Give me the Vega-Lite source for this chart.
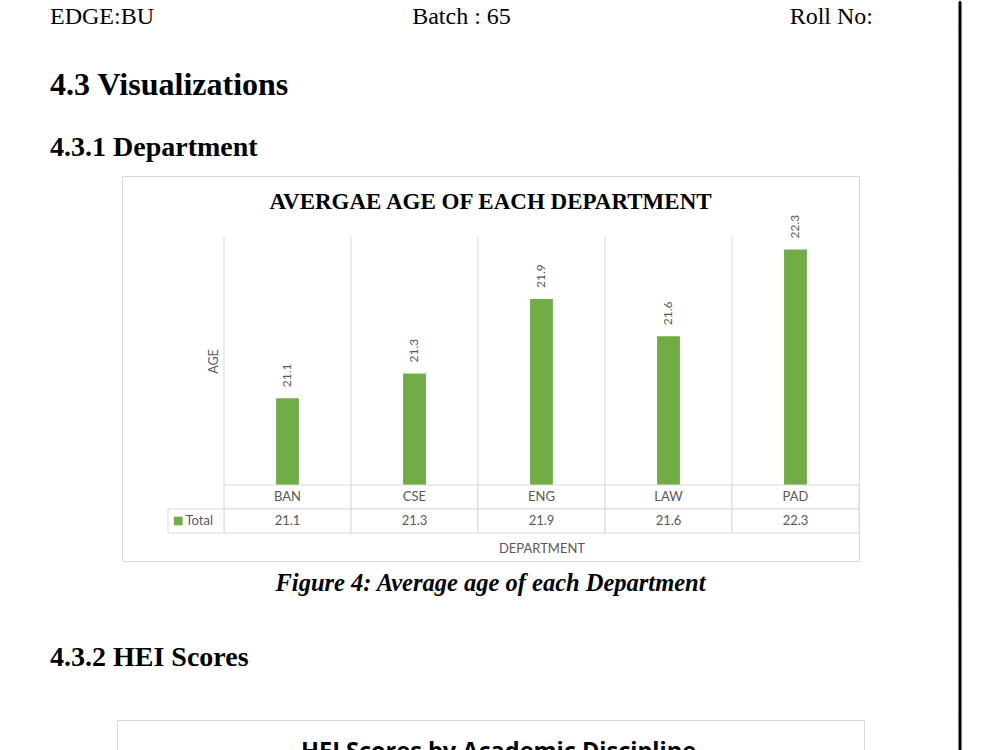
{
  "$schema": "https://vega.github.io/schema/vega-lite/v6.json",
  "padding": {"left": 50, "top": 0, "right": 10, "bottom": 0},
  "background": "white",
  "columns": 2,
  "spacing": {"row": 0, "column": 29},
  "bounds": "flush",
  "align": "each",
  "center": {"row": false, "column": true},
  "datasets": {
    "dept": [
      {"department": "BAN", "age": 21.1},
      {"department": "CSE", "age": 21.3},
      {"department": "ENG", "age": 21.9},
      {"department": "LAW", "age": 21.6},
      {"department": "PAD", "age": 22.3}
    ],
    "header": [{"item": "EDGE:BU"}, {"item": "Batch : 65"}, {"item": "Roll No:"}],
    "legend": [{"series": "Total"}],
    "caption": [{"text": "Figure 4: Average age of each Department"}]
  },
  "concat": [
    {
      "width": 881, "height": 30,
      "data": {"name": "header"},
      "encoding": {
        "x": {"field": "item", "type": "nominal", "scale": {"type": "point", "domain": ["EDGE:BU", "Batch : 65", "Roll No:"], "padding": 0.070474, "align": 0}, "axis": null},
        "text": {"field": "item"}
      },
      "layer": [
        {"transform": [{"filter": "datum.item === 'EDGE:BU'"}], "mark": {"type": "text", "align": "left", "baseline": "middle", "font": "Liberation Serif", "fontSize": 24, "color": "black"}},
        {"transform": [{"filter": "datum.item === 'Batch : 65'"}], "mark": {"type": "text", "align": "center", "baseline": "middle", "font": "Liberation Serif", "fontSize": 24, "color": "black"}},
        {"transform": [{"filter": "datum.item === 'Roll No:'"}], "mark": {"type": "text", "align": "right", "baseline": "middle", "font": "Liberation Serif", "fontSize": 24, "color": "black"}}
      ]
    },
    {"width": 0.01, "height": 30, "view": {"stroke": "black", "strokeWidth": 3, "strokeJoin": "bevel"}, "data": {"values": []}, "mark": "text"},
    {
      "width": 881, "height": 144,
      "data": {"values": []}, "mark": "text",
      "title": {"text": "4.3 Visualizations", "subtitle": "4.3.1 Department", "orient": "bottom", "anchor": "start", "frame": "group", "offset": -106.5,
        "font": "Liberation Serif", "fontSize": 32, "fontWeight": "bold", "color": "black",
        "subtitleFont": "Liberation Serif", "subtitleFontSize": 28, "subtitleFontWeight": "bold", "subtitleColor": "black", "subtitlePadding": 32}
    },
    {"width": 0.01, "height": 144, "view": {"stroke": "black", "strokeWidth": 3, "strokeJoin": "bevel"}, "data": {"values": []}, "mark": "text"},
    {
      "width": 737, "height": 385,
      "view": {"stroke": "#d9d9d9", "strokeWidth": 1},
      "title": {"text": "AVERGAE AGE OF EACH DEPARTMENT", "offset": -37.8, "anchor": "middle", "frame": "group", "font": "Liberation Serif", "fontSize": 23, "fontWeight": "bold", "color": "black"},
      "data": {"name": "dept"},
      "resolve": {"scale": {"x": "independent", "y": "independent"}},
      "layer": [
        {
          "mark": {"type": "rule", "color": "#d9d9d9", "strokeWidth": 1},
          "encoding": {
            "x": {"field": "department", "type": "nominal", "bandPosition": 0, "scale": {"type": "band", "domain": ["BAN", "CSE", "ENG", "LAW", "PAD"], "paddingInner": 0, "paddingOuter": 0.40157, "align": 1}, "axis": null},
            "y": {"datum": 22.4, "type": "quantitative", "scale": {"type": "linear", "domain": [19.7871, 22.8919], "zero": false, "nice": false}, "axis": null},
            "y2": {"datum": 20.4}
          }
        },
        {
          "mark": {"type": "bar", "width": {"band": 0.18}, "color": "#70ad47"},
          "encoding": {
            "x": {"field": "department", "type": "nominal", "scale": {"type": "band", "domain": ["BAN", "CSE", "ENG", "LAW", "PAD"], "paddingInner": 0, "paddingOuter": 0.40157, "align": 1},
              "axis": {"title": "DEPARTMENT", "labels": false, "ticks": false, "domain": false, "grid": false, "titleX": 419.5, "titleY": -8.3, "titleBaseline": "alphabetic", "titleAlign": "center", "titleFont": "Lato", "titleFontSize": 13, "titleFontWeight": "normal", "titleColor": "#595959"}},
            "y": {"field": "age", "type": "quantitative", "scale": {"type": "linear", "domain": [19.7871, 22.8919], "zero": false, "nice": false},
              "axis": {"title": "AGE", "labels": false, "ticks": false, "domain": false, "grid": false, "titleX": 95.7, "titleY": 185, "titleAngle": 270, "titleBaseline": "alphabetic", "titleAlign": "center", "titleFont": "Lato", "titleFontSize": 12.5, "titleFontWeight": "normal", "titleColor": "#595959"}},
            "y2": {"datum": 20.4}
          }
        },
        {
          "mark": {"type": "text", "angle": 270, "align": "left", "baseline": "middle", "dx": 11, "font": "Lato", "fontSize": 12, "color": "#595959"},
          "encoding": {
            "x": {"field": "department", "type": "nominal", "scale": {"type": "band", "domain": ["BAN", "CSE", "ENG", "LAW", "PAD"], "paddingInner": 0, "paddingOuter": 0.40157, "align": 1}, "axis": null},
            "y": {"field": "age", "type": "quantitative", "scale": {"type": "linear", "domain": [19.7871, 22.8919], "zero": false, "nice": false}, "axis": null},
            "text": {"field": "age", "type": "quantitative", "format": ".1f"}
          }
        },
        {
          "mark": {"type": "rect", "fill": "white", "stroke": "#d9d9d9", "strokeWidth": 1},
          "encoding": {
            "x": {"field": "department", "type": "nominal", "scale": {"type": "band", "domain": ["BAN", "CSE", "ENG", "LAW", "PAD"], "paddingInner": 0, "paddingOuter": 0.40157, "align": 1}, "axis": null},
            "y": {"datum": "category", "type": "nominal", "scale": {"type": "band", "domain": ["category", "Total"], "range": [309, 357], "paddingInner": 0, "paddingOuter": 0}, "axis": null}
          }
        },
        {
          "mark": {"type": "rect", "fill": "white", "stroke": "#d9d9d9", "strokeWidth": 1},
          "encoding": {
            "x": {"field": "department", "type": "nominal", "scale": {"type": "band", "domain": ["BAN", "CSE", "ENG", "LAW", "PAD"], "paddingInner": 0, "paddingOuter": 0.40157, "align": 1}, "axis": null},
            "y": {"datum": "Total", "type": "nominal", "scale": {"type": "band", "domain": ["category", "Total"], "range": [309, 357], "paddingInner": 0, "paddingOuter": 0}, "axis": null}
          }
        },
        {
          "mark": {"type": "text", "align": "center", "baseline": "middle", "font": "Lato", "fontSize": 13, "color": "#595959"},
          "encoding": {
            "x": {"field": "department", "type": "nominal", "scale": {"type": "band", "domain": ["BAN", "CSE", "ENG", "LAW", "PAD"], "paddingInner": 0, "paddingOuter": 0.40157, "align": 1}, "axis": null},
            "y": {"datum": "category", "type": "nominal", "scale": {"type": "band", "domain": ["category", "Total"], "range": [309, 357], "paddingInner": 0, "paddingOuter": 0}, "axis": null},
            "text": {"field": "department"}
          }
        },
        {
          "mark": {"type": "text", "align": "center", "baseline": "middle", "font": "Lato", "fontSize": 13, "color": "#595959"},
          "encoding": {
            "x": {"field": "department", "type": "nominal", "scale": {"type": "band", "domain": ["BAN", "CSE", "ENG", "LAW", "PAD"], "paddingInner": 0, "paddingOuter": 0.40157, "align": 1}, "axis": null},
            "y": {"datum": "Total", "type": "nominal", "scale": {"type": "band", "domain": ["category", "Total"], "range": [309, 357], "paddingInner": 0, "paddingOuter": 0}, "axis": null},
            "text": {"field": "age", "type": "quantitative", "format": ".1f"}
          }
        },
        {
          "data": {"name": "legend"},
          "mark": {"type": "rect", "fill": "white", "stroke": "#d9d9d9", "strokeWidth": 1},
          "encoding": {
            "x": {"field": "series", "type": "nominal", "scale": {"type": "band", "domain": ["Total"], "range": [46, 102], "paddingInner": 0, "paddingOuter": 0}, "axis": null},
            "y": {"datum": "Total", "type": "nominal", "scale": {"type": "band", "domain": ["category", "Total"], "range": [309, 357], "paddingInner": 0, "paddingOuter": 0}, "axis": null}
          }
        },
        {
          "data": {"name": "legend"},
          "mark": {"type": "point", "shape": "square", "filled": true, "size": 76, "color": "#70ad47", "opacity": 1},
          "encoding": {
            "x": {"field": "series", "type": "nominal", "bandPosition": 0.184, "scale": {"type": "band", "domain": ["Total"], "range": [46, 102], "paddingInner": 0, "paddingOuter": 0}, "axis": null},
            "y": {"datum": "Total", "type": "nominal", "scale": {"type": "band", "domain": ["category", "Total"], "range": [309, 357], "paddingInner": 0, "paddingOuter": 0}, "axis": null}
          }
        },
        {
          "data": {"name": "legend"},
          "mark": {"type": "text", "align": "left", "baseline": "middle", "font": "Lato", "fontSize": 13, "color": "#595959"},
          "encoding": {
            "x": {"field": "series", "type": "nominal", "bandPosition": 0.3125, "scale": {"type": "band", "domain": ["Total"], "range": [46, 102], "paddingInner": 0, "paddingOuter": 0}, "axis": null},
            "y": {"datum": "Total", "type": "nominal", "scale": {"type": "band", "domain": ["category", "Total"], "range": [309, 357], "paddingInner": 0, "paddingOuter": 0}, "axis": null},
            "text": {"field": "series"}
          }
        }
      ]
    },
    {"width": 0.01, "height": 385, "view": {"stroke": "black", "strokeWidth": 3, "strokeJoin": "bevel"}, "data": {"values": []}, "mark": "text"},
    {
      "width": 881, "height": 46,
      "data": {"name": "caption"},
      "mark": {"type": "text", "align": "center", "baseline": "middle", "font": "Liberation Serif", "fontSize": 24.5, "fontWeight": "bold", "fontStyle": "italic", "color": "black"},
      "encoding": {"text": {"field": "text"}}
    },
    {"width": 0.01, "height": 46, "view": {"stroke": "black", "strokeWidth": 3, "strokeJoin": "bevel"}, "data": {"values": []}, "mark": "text"},
    {
      "width": 881, "height": 113,
      "data": {"values": []}, "mark": "text",
      "title": {"text": "4.3.2 HEI Scores", "orient": "bottom", "anchor": "start", "frame": "group", "offset": -76.1, "font": "Liberation Serif", "fontSize": 28, "fontWeight": "bold", "color": "black"}
    },
    {"width": 0.01, "height": 113, "view": {"stroke": "black", "strokeWidth": 3, "strokeJoin": "bevel"}, "data": {"values": []}, "mark": "text"},
    {
      "width": 747, "height": 60,
      "view": {"stroke": "#d9d9d9", "strokeWidth": 1},
      "data": {"values": []}, "mark": "text",
      "title": {"text": "HEI Scores by Academic Discipline", "offset": -43.7, "dx": 8, "anchor": "middle", "frame": "group", "font": "Open Sans", "fontSize": 23.5, "fontWeight": "bold", "color": "black"}
    },
    {"width": 0.01, "height": 60, "view": {"stroke": "black", "strokeWidth": 3, "strokeJoin": "bevel"}, "data": {"values": []}, "mark": "text"}
  ],
  "config": {"view": {"stroke": null}}
}
